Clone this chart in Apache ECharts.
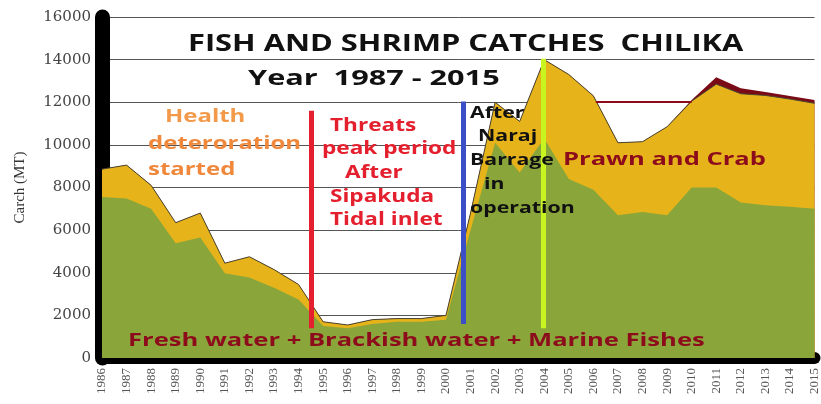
<!DOCTYPE html>
<html>
<head>
<meta charset="utf-8">
<script src="https://cdn.jsdelivr.net/npm/echarts@6/dist/echarts.min.js"></script>
<style>
  html, body { margin: 0; padding: 0; background: #fff; }
  #chilikaChart { width: 821px; height: 404px; }
</style>
</head>
<body>
<div id="chilikaChart"></div>
<script>
// years on the x axis
const years = [1986, 1987, 1988, 1989, 1990, 1991, 1992, 1993, 1994, 1995,
  1996, 1997, 1998, 1999, 2000, 2001, 2002, 2003, 2004, 2005,
  2006, 2007, 2008, 2009, 2010, 2011, 2012, 2013, 2014, 2015];

// catch in MT
const fishCatch = [7560, 7480, 7000, 5380, 5650, 3980, 3780, 3300, 2750, 1500,
  1400, 1600, 1700, 1700, 1800, 6000, 10100, 8700, 10300, 8400,
  7900, 6700, 6850, 6700, 8000, 8000, 7300, 7170, 7100, 7000];
const prawnCatch = [1300, 1570, 1100, 970, 1150, 470, 970, 850, 700, 200,
  150, 200, 150, 150, 200, 800, 1900, 2400, 3700, 4900,
  4400, 3400, 3300, 4150, 4050, 4850, 5100, 5150, 5050, 4950];
const crabCatch = [0, 0, 0, 0, 0, 0, 0, 0, 0, 0,
  0, 0, 0, 0, 0, 0, 0, 0, 0, 0,
  0, 0, 0, 0, 50, 320, 260, 160, 140, 150];

// events marked with vertical bars: [year, from, to, colour]
const eventLines = [
  [1994.5, 1400, 11600, '#e4202e'],
  [2000.7, 1600, 12030, '#3c4fc6'],
  [2003.95, 1400, 14040, '#c8f520'],
];
const refLevel = [2006.1, 2010, 12000];

const yTicks = { min: 0, max: 16000, step: 2000 };

const myEcharts = echarts.init(document.getElementById('chilikaChart'));

// layers are drawn as running totals, the bigger ones behind
const fishTop = fishCatch.map((v, i) => [years[i], v]);
const prawnTop = prawnCatch.map((v, i) => [years[i], fishCatch[i] + v]);
const crabTop = crabCatch.map((v, i) => [years[i], fishCatch[i] + prawnCatch[i] + v]);

// annotation texts: [text, x, y, colour, size, stretch]
const notes = [
  ['FISH AND SHRIMP CATCHES  CHILIKA', 188, 44, '#111', 23, 1.34],
  ['Year  1987 - 2015', 248, 79, '#111', 21, 1.46],
  ['Health', 165, 117, '#f39a4a', 18, 1.33],
  ['deteroration', 148, 144, '#f0883c', 18, 1.33],
  ['started', 148, 170, '#f0883c', 18, 1.33],
  ['Threats', 330, 126, '#e4202e', 17, 1.33],
  ['peak period', 322, 149, '#e4202e', 17, 1.33],
  ['After', 345, 173, '#e4202e', 17, 1.33],
  ['Sipakuda', 330, 197, '#e4202e', 17, 1.33],
  ['Tidal inlet', 330, 220, '#e4202e', 17, 1.33],
  ['After', 470, 113, '#111', 16, 1.33],
  ['Naraj', 478, 136, '#111', 16, 1.33],
  ['Barrage', 470, 160, '#111', 16, 1.33],
  ['in', 484, 184, '#111', 16, 1.33],
  ['operation', 470, 208, '#111', 16, 1.33],
  ['Prawn and Crab', 563, 160, '#8c0c1c', 18, 1.42],
  ['Fresh water + Brackish water + Marine Fishes', 128, 341, '#8c0c1c', 18, 1.42],
];

const graphics = notes.map(([text, x, y, fill, size, sx]) => ({
  type: 'text',
  x: x,
  y: y,
  scaleX: sx,
  z: 100,
  style: {
    text: text,
    font: 'bold ' + size + 'px "Open Sans", sans-serif',
    fill: fill,
    textAlign: 'left',
    textVerticalAlign: 'middle',
  },
}));

myEcharts.setOption({
  animation: false,
  grid: { left: 102, right: 6, top: 17, bottom: 46 },
  xAxis: {
    type: 'value',
    min: years[0],
    max: years[years.length - 1],
    interval: 1,
    axisLine: { show: true, onZero: false, lineStyle: { color: '#000', width: 12, cap: 'round' } },
    axisTick: { show: false },
    splitLine: { show: false },
    axisLabel: {
      rotate: 90,
      margin: 10,
      color: '#555',
      fontFamily: 'Liberation Serif',
      fontSize: 13,
      formatter: (v) => String(v),
    },
  },
  yAxis: {
    type: 'value',
    min: yTicks.min,
    max: yTicks.max,
    interval: yTicks.step,
    name: 'Carch (MT)',
    nameLocation: 'middle',
    nameRotate: 90,
    nameGap: 74,
    nameTextStyle: { fontFamily: 'Liberation Serif', fontSize: 15, color: '#333' },
    axisLine: { show: true, lineStyle: { color: '#000', width: 15, cap: 'round' } },
    axisTick: { show: false },
    splitLine: { show: true, lineStyle: { color: '#555', width: 1 } },
    axisLabel: {
      margin: 11,
      color: '#444',
      fontFamily: 'DejaVu Serif',
      fontSize: 15,
      formatter: (v) => String(v),
    },
  },
  series: [
    {
      name: 'Crab',
      type: 'line',
      symbol: 'none',
      lineStyle: { width: 0 },
      areaStyle: { color: '#7a0a16', opacity: 1 },
      data: crabTop,
      z: 2,
    },
    {
      name: 'Prawn',
      type: 'line',
      symbol: 'none',
      lineStyle: { width: 1, color: '#4a4530' },
      areaStyle: { color: '#e6b31a', opacity: 1 },
      data: prawnTop,
      z: 3,
      markLine: {
        silent: true,
        symbol: 'none',
        label: { show: false },
        lineStyle: { color: '#8c0c1c', width: 2, type: 'solid' },
        data: [[{ coord: [refLevel[0], refLevel[2]] }, { coord: [refLevel[1], refLevel[2]] }]],
      },
    },
    {
      name: 'Fish',
      type: 'line',
      symbol: 'none',
      lineStyle: { width: 0 },
      areaStyle: { color: '#8aa63a', opacity: 1 },
      data: fishTop,
      z: 4,
      markLine: {
        silent: true,
        symbol: 'none',
        label: { show: false },
        data: eventLines.map(([x, y0, y1, c]) => [
          { coord: [x, y0], lineStyle: { color: c, width: 5, type: 'solid' } },
          { coord: [x, y1] },
        ]),
      },
    },
  ],
  graphic: graphics,
});
</script>
</body>
</html>
